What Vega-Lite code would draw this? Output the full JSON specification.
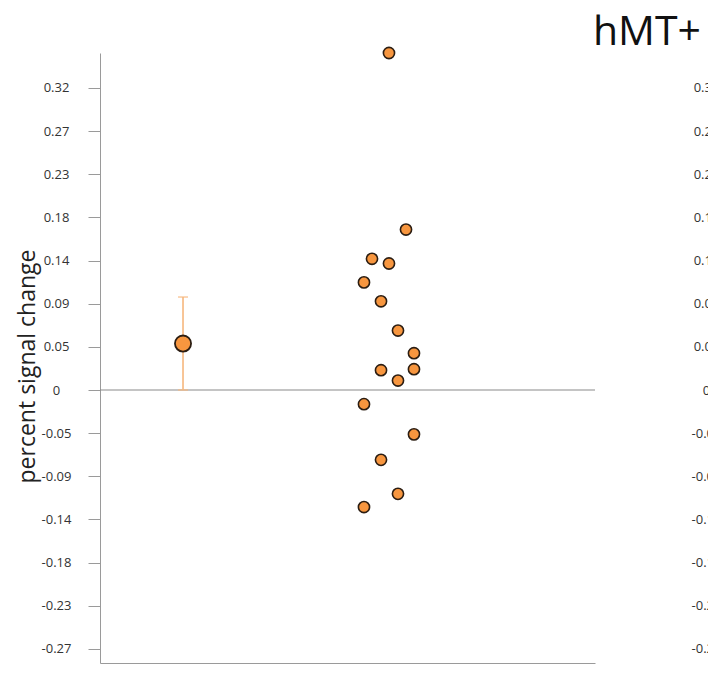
{
  "$schema": "https://vega.github.io/schema/vega-lite/v6.json",
  "width": 495,
  "height": 610,
  "autosize": {"type": "none"},
  "padding": {"left": 100, "top": 53, "right": 113, "bottom": 30},
  "background": "#ffffff",
  "config": {
    "view": {"stroke": null},
    "font": "Open Sans",
    "axisX": {"domain": true, "domainColor": "#9a9a9a", "domainWidth": 1, "ticks": false, "labels": false, "grid": false, "title": null}
  },
  "title": {"text": "hMT+", "anchor": "end", "frame": "group", "dx": 106, "offset": -10, "fontSize": 41, "fontWeight": "normal", "color": "#111111"},
  "datasets": {
    "subjects": [
      {"xpos": 58.38, "value": 0.357},
      {"xpos": 61.82, "value": 0.170},
      {"xpos": 54.95, "value": 0.139},
      {"xpos": 58.38, "value": 0.134},
      {"xpos": 53.33, "value": 0.114},
      {"xpos": 56.77, "value": 0.094},
      {"xpos": 60.20, "value": 0.063},
      {"xpos": 63.43, "value": 0.039},
      {"xpos": 56.77, "value": 0.021},
      {"xpos": 63.43, "value": 0.022},
      {"xpos": 60.20, "value": 0.010},
      {"xpos": 53.33, "value": -0.015},
      {"xpos": 63.43, "value": -0.047},
      {"xpos": 56.77, "value": -0.074},
      {"xpos": 60.20, "value": -0.110},
      {"xpos": 53.33, "value": -0.124}
    ],
    "mean": [
      {"xpos": 16.77, "value": 0.0492, "lower": 0.0, "upper": 0.0985}
    ],
    "zero": [{"value": 0}]
  },
  "resolve": {"scale": {"y": "independent"}},
  "layer": [
    {
      "data": {"name": "zero"},
      "mark": {"type": "rule", "color": "#8a8a8a", "strokeWidth": 1.2},
      "encoding": {
        "y": {"field": "value", "type": "quantitative",
          "scale": {"domain": [-0.2892, 0.357], "nice": false, "zero": false, "padding": 0},
          "axis": {"orient": "right", "values": [-0.274286, -0.228571, -0.182857, -0.137143, -0.091429, -0.045714, 0, 0.045714, 0.091429, 0.137143, 0.182857, 0.228571, 0.274286, 0.32],
            "labelExpr": "datum.value == 0 ? '0' : (datum.value < 0 ? '-' : '') + format(abs(datum.value), '.2f')",
            "domain": false, "ticks": false, "grid": false, "title": null,
            "labelPadding": 111, "labelAlign": "center", "labelBaseline": "middle", "labelFontSize": 13, "labelColor": "#333333", "labelFont": "Open Sans"}}
      }
    },
    {
      "data": {"name": "mean"},
      "mark": {"type": "rule", "color": "#f6b77d", "strokeWidth": 1.6},
      "encoding": {
        "x": {"field": "xpos", "type": "quantitative", "scale": {"domain": [0, 100], "nice": false, "zero": false, "padding": 0}},
        "y": {"field": "lower", "type": "quantitative", "scale": {"domain": [-0.2892, 0.357], "nice": false, "zero": false, "padding": 0}, "axis": null},
        "y2": {"field": "upper"}
      }
    },
    {
      "data": {"name": "mean"},
      "mark": {"type": "tick", "orient": "horizontal", "color": "#f6b77d", "size": 10, "thickness": 1.6},
      "encoding": {
        "x": {"field": "xpos", "type": "quantitative"},
        "y": {"field": "upper", "type": "quantitative", "scale": {"domain": [-0.2892, 0.357], "nice": false, "zero": false, "padding": 0}, "axis": null}
      }
    },
    {
      "data": {"name": "mean"},
      "mark": {"type": "tick", "orient": "horizontal", "color": "#f6b77d", "size": 10, "thickness": 1.6},
      "encoding": {
        "x": {"field": "xpos", "type": "quantitative"},
        "y": {"field": "lower", "type": "quantitative", "scale": {"domain": [-0.2892, 0.357], "nice": false, "zero": false, "padding": 0}, "axis": null}
      }
    },
    {
      "data": {"name": "mean"},
      "mark": {"type": "point", "filled": true, "fill": "#f7963f", "stroke": "#2b1d12", "strokeWidth": 1.8, "size": 260, "opacity": 1},
      "encoding": {
        "x": {"field": "xpos", "type": "quantitative"},
        "y": {"field": "value", "type": "quantitative", "scale": {"domain": [-0.2892, 0.357], "nice": false, "zero": false, "padding": 0}, "axis": null}
      }
    },
    {
      "data": {"name": "subjects"},
      "mark": {"type": "point", "filled": true, "fill": "#f7963f", "stroke": "#2b1d12", "strokeWidth": 1.6, "size": 125, "opacity": 1},
      "encoding": {
        "x": {"field": "xpos", "type": "quantitative"},
        "y": {"field": "value", "type": "quantitative",
          "scale": {"domain": [-0.2892, 0.357], "nice": false, "zero": false, "padding": 0},
          "axis": {"orient": "left", "values": [-0.274286, -0.228571, -0.182857, -0.137143, -0.091429, -0.045714, 0, 0.045714, 0.091429, 0.137143, 0.182857, 0.228571, 0.274286, 0.32],
            "labelExpr": "datum.value == 0 ? '0' : (datum.value < 0 ? '-' : '') + format(abs(datum.value), '.2f')",
            "domain": true, "domainColor": "#9a9a9a", "ticks": true, "tickColor": "#9a9a9a", "tickSize": 12, "grid": false,
            "labelPadding": 32, "labelAlign": "center", "labelBaseline": "middle", "labelFontSize": 13, "labelColor": "#333333", "labelFont": "Open Sans",
            "title": "percent signal change", "titleFont": "Open Sans", "titleFontSize": 23, "titleFontWeight": "normal", "titleColor": "#222222",
            "titleX": -73, "titleY": 313, "titleAngle": -90, "titleAlign": "center", "titleBaseline": "middle"}}
      }
    }
  ]
}
